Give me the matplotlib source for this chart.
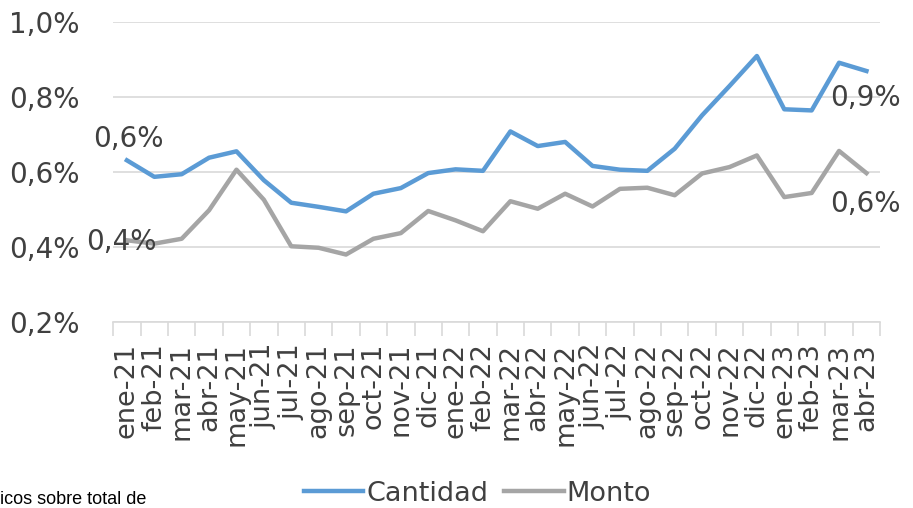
import matplotlib
matplotlib.use('Agg')
import matplotlib.pyplot as plt
import numpy as np

meses = ['ene-21', 'feb-21', 'mar-21', 'abr-21', 'may-21', 'jun-21', 'jul-21', 'ago-21',
         'sep-21', 'oct-21', 'nov-21', 'dic-21', 'ene-22', 'feb-22', 'mar-22', 'abr-22',
         'may-22', 'jun-22', 'jul-22', 'ago-22', 'sep-22', 'oct-22', 'nov-22', 'dic-22',
         'ene-23', 'feb-23', 'mar-23', 'abr-23']
cantidad = [0.631, 0.587, 0.594, 0.638, 0.655, 0.578, 0.518, 0.507, 0.495, 0.542, 0.557, 0.597,
            0.607, 0.603, 0.708, 0.669, 0.680, 0.616, 0.606, 0.603, 0.662, 0.751, 0.829, 0.909,
            0.767, 0.764, 0.891, 0.869]
monto = [0.418, 0.409, 0.422, 0.498, 0.606, 0.526, 0.402, 0.398, 0.380, 0.422, 0.437, 0.496,
         0.471, 0.442, 0.522, 0.502, 0.542, 0.508, 0.555, 0.558, 0.538, 0.596, 0.613, 0.644,
         0.533, 0.544, 0.656, 0.597]

TXT = '#404040'
BLUE = '#5B9BD5'
GREY = '#A5A5A5'

fig = plt.figure(figsize=(9.13, 5.08), dpi=100)
ax = fig.add_axes([0.124, 0.366, 0.840, 0.591])
x = np.arange(len(meses))
ax.plot(x, cantidad, color=BLUE, lw=3.2, label='Cantidad', solid_joinstyle='round')
ax.plot(x, monto, color=GREY, lw=3.2, label='Monto', solid_joinstyle='round')

ax.set_xlim(-0.5, len(meses) - 0.5)
ax.set_ylim(0.2, 1.0)
yt = [0.2, 0.4, 0.6, 0.8, 1.0]
ax.set_yticks(yt)
ax.set_yticklabels([f'{v:.1f}%'.replace('.', ',') for v in yt], fontsize=20, color=TXT)
ax.grid(axis='y', color='#D9D9D9', lw=1.2)
ax.tick_params(axis='y', length=0, pad=24)
ax.set_xticks(x)
ax.set_xticklabels(meses, rotation=90, fontsize=19.5, color=TXT)
ax.tick_params(axis='x', length=0, pad=15)
ax.set_xticks(np.arange(-0.5, len(meses)), minor=True)
ax.tick_params(axis='x', which='minor', length=10, color='#D9D9D9', width=1.2)
for s in ('top', 'right', 'left'):
    ax.spines[s].set_visible(False)
ax.spines['bottom'].set_color('#D9D9D9')
ax.spines['bottom'].set_linewidth(1.2)

def pct(v):
    return f'{v:.1f}%'.replace('.', ',')

ax.text(x[0] + 0.05, cantidad[0] + 0.02, pct(cantidad[0]), fontsize=20, color=TXT,
        ha='center', va='bottom')
ax.text(x[0] - 0.2, monto[0] - 0.005, pct(monto[0]), fontsize=20, color=TXT,
        ha='center', va='center')
ax.text(x[-1] - 0.05, cantidad[-1] - 0.035, pct(cantidad[-1]), fontsize=20, color=TXT,
        ha='center', va='top')
ax.text(x[-1] - 0.05, monto[-1] - 0.045, pct(monto[-1]), fontsize=20, color=TXT,
        ha='center', va='top')

fig.legend(loc='center', bbox_to_anchor=(0.523, 0.028), ncol=2, frameon=False,
           fontsize=19.5, labelcolor=TXT, handlelength=2.2, handletextpad=0.1,
           columnspacing=0.6)
fig.text(0.0, 0.0, 'icos sobre total de', fontsize=13, color='black',
         family='Liberation Sans', ha='left', va='bottom')

fig.savefig('out.png', dpi=100)
